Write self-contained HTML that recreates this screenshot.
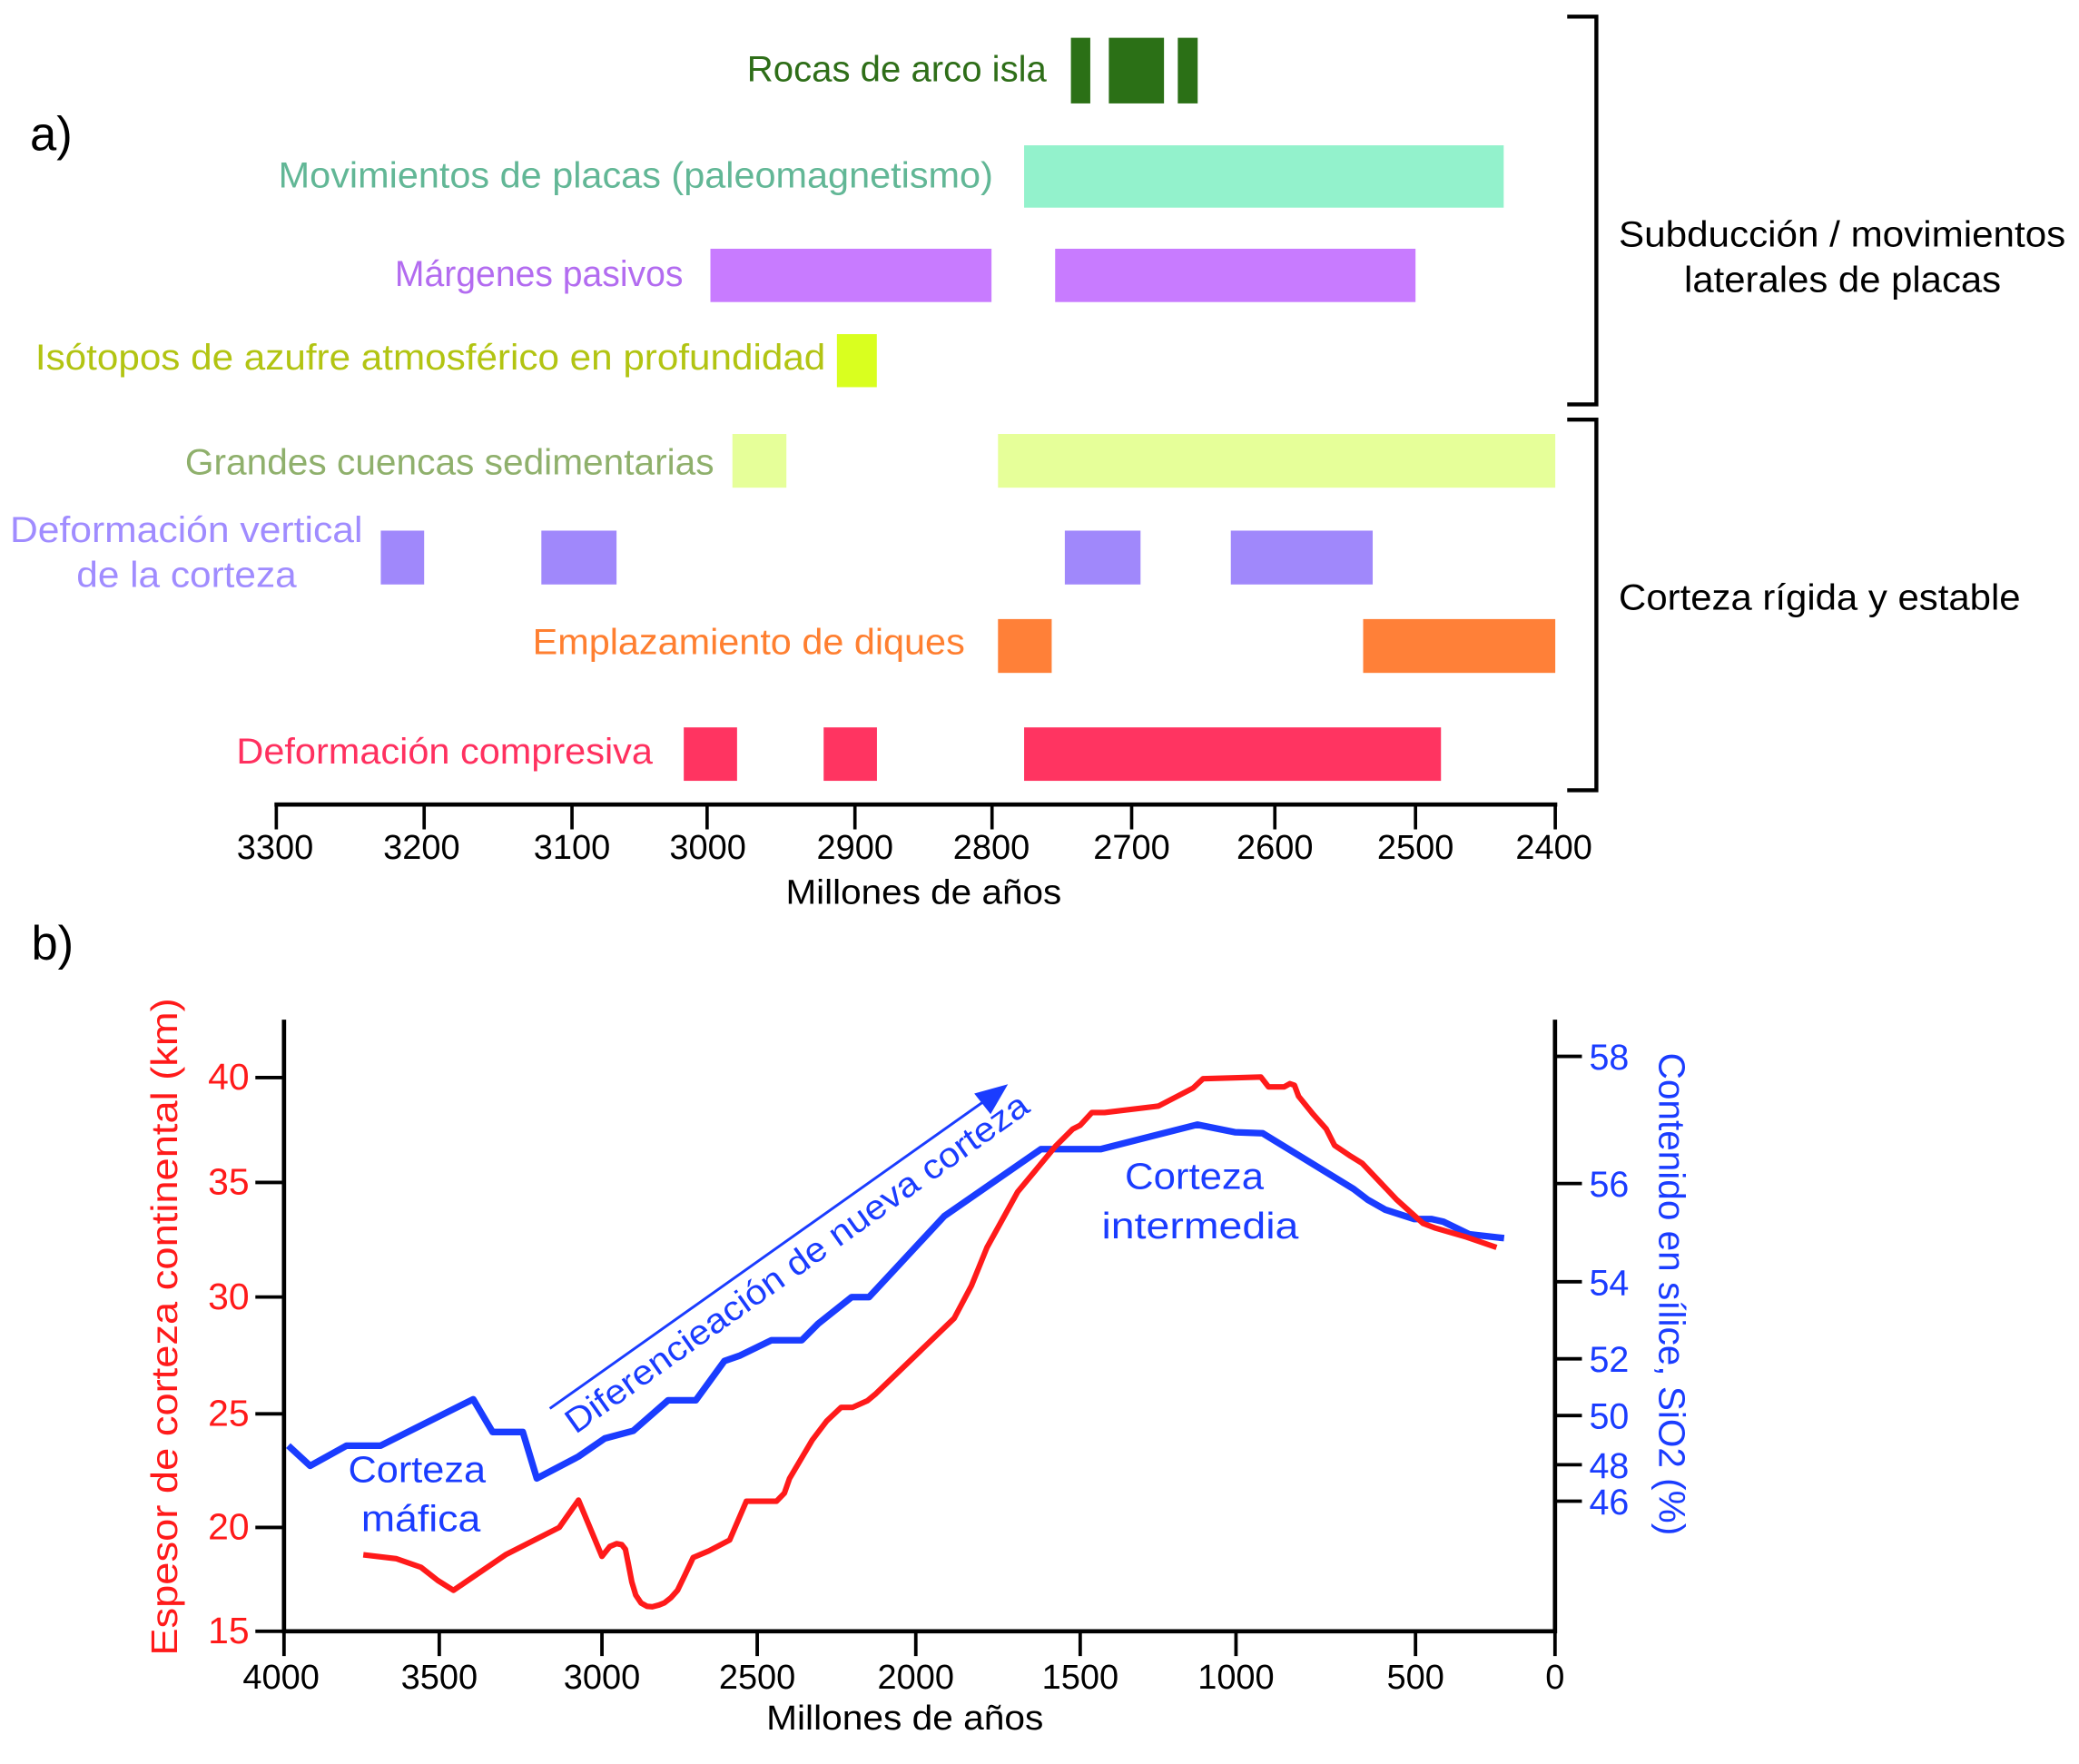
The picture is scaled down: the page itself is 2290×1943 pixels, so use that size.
<!DOCTYPE html>
<html><head><meta charset="utf-8"><style>
html,body{margin:0;padding:0;background:#fff;}
svg{display:block;}
text{font-family:"Liberation Sans",sans-serif;}
</style></head><body>
<svg width="2290" height="1943" viewBox="0 0 1568 1330.4" xmlns="http://www.w3.org/2000/svg">
<rect x="0" y="0" width="1568" height="1330.4" fill="#fff"/>

<!-- Panel a -->
<text x="22.6" y="113.4" font-size="36" fill="#000">a)</text>

<!-- bars -->
<g>
<rect x="807.7" y="28.5" width="14.6" height="49.5" fill="#2b7016"/>
<rect x="836.3" y="28.5" width="41.6" height="49.5" fill="#2b7016"/>
<rect x="888.3" y="28.5" width="15" height="49.5" fill="#2b7016"/>

<rect x="772.4" y="109.6" width="361.7" height="47" fill="#93f2cc"/>

<rect x="535.8" y="187.6" width="212" height="40.2" fill="#c87bff"/>
<rect x="795.8" y="187.6" width="271.8" height="40.2" fill="#c87bff"/>

<rect x="631.2" y="252" width="30.1" height="40" fill="#d9ff1f"/>

<rect x="552.4" y="327.3" width="40.7" height="40.5" fill="#e6ff99"/>
<rect x="752.7" y="327.3" width="420.3" height="40.5" fill="#e6ff99"/>

<rect x="287.2" y="400.2" width="32.7" height="40.6" fill="#a088fb"/>
<rect x="408.3" y="400.2" width="56.7" height="40.6" fill="#a088fb"/>
<rect x="803.1" y="400.2" width="57.1" height="40.6" fill="#a088fb"/>
<rect x="928.3" y="400.2" width="107" height="40.6" fill="#a088fb"/>

<rect x="752.7" y="466.9" width="40.5" height="40.6" fill="#ff8038"/>
<rect x="1028.1" y="466.9" width="144.9" height="40.6" fill="#ff8038"/>

<rect x="515.7" y="548.6" width="40.2" height="40.3" fill="#ff3461"/>
<rect x="621.2" y="548.6" width="40.2" height="40.3" fill="#ff3461"/>
<rect x="772.4" y="548.6" width="314.4" height="40.3" fill="#ff3461"/>
</g>

<!-- labels a -->
<g font-size="27">
<text x="563.4" y="61.2" fill="#2e6e18" textLength="226" lengthAdjust="spacingAndGlyphs">Rocas de arco isla</text>
<text x="210" y="141.5" fill="#62b796" textLength="539" lengthAdjust="spacingAndGlyphs">Movimientos de placas (paleomagnetismo)</text>
<text x="297.8" y="215.7" fill="#b36cf0" textLength="217.4" lengthAdjust="spacingAndGlyphs">Márgenes pasivos</text>
<text x="26.6" y="278.8" fill="#b2c412" textLength="596" lengthAdjust="spacingAndGlyphs">Isótopos de azufre atmosférico en profundidad</text>
<text x="139.6" y="357.9" fill="#8fb06c" textLength="399" lengthAdjust="spacingAndGlyphs">Grandes cuencas sedimentarias</text>
<text x="7.5" y="408.9" fill="#a08cff" textLength="266" lengthAdjust="spacingAndGlyphs">Deformación vertical</text>
<text x="57.7" y="442.5" fill="#a08cff" textLength="166" lengthAdjust="spacingAndGlyphs">de la corteza</text>
<text x="401.7" y="493.5" fill="#ff7f30" textLength="326" lengthAdjust="spacingAndGlyphs">Emplazamiento de diques</text>
<text x="178.3" y="575.7" fill="#ff305f" textLength="314" lengthAdjust="spacingAndGlyphs">Deformación compresiva</text>
</g>
<g font-size="27" fill="#000">
<text x="1220.9" y="186" textLength="337" lengthAdjust="spacingAndGlyphs">Subducción / movimientos</text>
<text x="1270.2" y="220.3" textLength="239" lengthAdjust="spacingAndGlyphs">laterales de placas</text>
<text x="1220.9" y="459.9" textLength="303" lengthAdjust="spacingAndGlyphs">Corteza rígida y estable</text>
</g>

<!-- brackets -->
<g fill="none" stroke="#000" stroke-width="3">
<polyline points="1182,12.5 1204,12.5 1204,305 1182,305"/>
<polyline points="1182,316.5 1204,316.5 1204,596 1182,596"/>
</g>

<!-- axis a -->
<g stroke="#000">
<line x1="207" y1="606.8" x2="1174.5" y2="606.8" stroke-width="3.2"/>
<g stroke-width="2.5">
<line x1="208.4" y1="606.8" x2="208.4" y2="625.5"/>
<line x1="319.9" y1="606.8" x2="319.9" y2="625.5"/>
<line x1="431.4" y1="606.8" x2="431.4" y2="625.5"/>
<line x1="533.3" y1="606.8" x2="533.3" y2="625.5"/>
<line x1="644.8" y1="606.8" x2="644.8" y2="625.5"/>
<line x1="748.2" y1="606.8" x2="748.2" y2="625.5"/>
<line x1="853.5" y1="606.8" x2="853.5" y2="625.5"/>
<line x1="961.5" y1="606.8" x2="961.5" y2="625.5"/>
<line x1="1067.6" y1="606.8" x2="1067.6" y2="625.5"/>
<line x1="1173" y1="606.8" x2="1173" y2="625.5"/>
</g>
</g>
<g font-size="26" fill="#000" text-anchor="middle">
<text x="207.5" y="647.9">3300</text>
<text x="318" y="647.9">3200</text>
<text x="431.4" y="647.9">3100</text>
<text x="533.8" y="647.9">3000</text>
<text x="644.8" y="647.9">2900</text>
<text x="747.7" y="647.9">2800</text>
<text x="853.5" y="647.9">2700</text>
<text x="961.5" y="647.9">2600</text>
<text x="1067.6" y="647.9">2500</text>
<text x="1172" y="647.9">2400</text>
</g>
<text x="592.6" y="681.5" font-size="26" fill="#000" textLength="208" lengthAdjust="spacingAndGlyphs">Millones de años</text>

<!-- Panel b -->
<text x="23.6" y="723.8" font-size="36" fill="#000">b)</text>

<!-- curves -->
<polyline fill="none" stroke="#1a3cff" stroke-width="5" stroke-linejoin="round" stroke-linecap="butt"
points="217.4,1090.3 233.9,1105.5 261.4,1090.3 287,1090.3 356.9,1055.3 371.5,1080 394.3,1080 404.9,1115 436.3,1098.5 456,1084.9 477.6,1079.1 503.9,1056.1 524.8,1056.1 546.4,1026.4 558.2,1022.3 581.8,1010.8 604.7,1010.8 617,998.4 642.3,978.3 655.4,978.3 712.1,917.3 785.1,866.7 830,866.7 903,848.2 931.3,853.9 952.3,854.7 1020.9,896.7 1031.8,905 1044.9,912.4 1066.7,919.4 1079.8,919.4 1088.6,921.4 1108.2,930.9 1134.4,933.8"/>
<polyline fill="none" stroke="#ff1a1a" stroke-width="4.2" stroke-linejoin="round" stroke-linecap="butt"
points="274,1172.6 298.7,1175.5 317.6,1182.1 330.2,1192 342,1199.4 381.3,1172.6 421.8,1152 436.3,1131.4 454,1173.8 459.9,1166.4 465,1164.2 469,1165 471.7,1168.5 474,1180 476.5,1193 479.5,1203 483.5,1209 488,1211.5 492,1211.8 497,1210.5 501.2,1208.8 506,1205 511,1199.4 516.5,1188 522.8,1174.7 534.6,1169.7 550.3,1161.5 562.9,1132.2 585.7,1132.2 591.6,1126.1 595.5,1115 612.6,1086.1 623.5,1071.7 634.4,1061.4 643.1,1061.4 654.1,1056.5 660.6,1051.1 719.6,994.3 732.7,969.6 744.4,940.8 767.6,898.8 796,864.6 809.1,851.5 814.8,848.6 823.5,839.1 833.1,839.1 873.7,834.2 899.9,820.6 907.3,813.6 951,812.3 956.7,819.7 968.5,819.7 972.8,817.3 976.3,818.5 979.4,826.8 990.3,840.3 1000.3,851.5 1006.5,863.8 1018.7,872 1027.4,877.4 1053.6,905 1073.3,922.7 1082,926 1106,933 1128.7,940.8"/>

<!-- arrow -->
<line x1="414.7" y1="1062.3" x2="750" y2="825" stroke="#1a3cff" stroke-width="2"/>
<polygon points="734.8,824.7 760.2,817.7 747.1,840.3" fill="#1a3cff"/>
<text transform="translate(434,1082) rotate(-35.4)" font-size="26" fill="#1a3cff" textLength="422" lengthAdjust="spacingAndGlyphs">Diferencieación de nueva corteza</text>

<g font-size="28" fill="#1a3cff">
<text x="262.6" y="1117.8" textLength="103.8" lengthAdjust="spacingAndGlyphs">Corteza</text>
<text x="272.4" y="1154.9" textLength="90" lengthAdjust="spacingAndGlyphs">máfica</text>
<text x="848.4" y="896.7" textLength="104.8" lengthAdjust="spacingAndGlyphs">Corteza</text>
<text x="830.9" y="933.8" textLength="148.5" lengthAdjust="spacingAndGlyphs">intermedia</text>
</g>

<!-- axes b -->
<g stroke="#000" fill="none">
<polyline points="214.2,769 214.2,1230.3 1172.8,1230.3 1172.8,769" stroke-width="3.2"/>
<g stroke-width="2.6">
<line x1="192.6" y1="812.7" x2="214.2" y2="812.7"/>
<line x1="192.6" y1="891.8" x2="214.2" y2="891.8"/>
<line x1="192.6" y1="978.2" x2="214.2" y2="978.2"/>
<line x1="192.6" y1="1066.3" x2="214.2" y2="1066.3"/>
<line x1="192.6" y1="1152" x2="214.2" y2="1152"/>
<line x1="192.6" y1="1230.3" x2="214.2" y2="1230.3"/>

<line x1="1172.8" y1="796.7" x2="1193.1" y2="796.7"/>
<line x1="1172.8" y1="892.6" x2="1193.1" y2="892.6"/>
<line x1="1172.8" y1="966.7" x2="1193.1" y2="966.7"/>
<line x1="1172.8" y1="1024.8" x2="1193.1" y2="1024.8"/>
<line x1="1172.8" y1="1067.6" x2="1193.1" y2="1067.6"/>
<line x1="1172.8" y1="1104.7" x2="1193.1" y2="1104.7"/>
<line x1="1172.8" y1="1132.2" x2="1193.1" y2="1132.2"/>

<line x1="214.2" y1="1230.3" x2="214.2" y2="1249"/>
<line x1="331.3" y1="1230.3" x2="331.3" y2="1249"/>
<line x1="454" y1="1230.3" x2="454" y2="1249"/>
<line x1="571.1" y1="1230.3" x2="571.1" y2="1249"/>
<line x1="690.7" y1="1230.3" x2="690.7" y2="1249"/>
<line x1="814.7" y1="1230.3" x2="814.7" y2="1249"/>
<line x1="932.2" y1="1230.3" x2="932.2" y2="1249"/>
<line x1="1067.6" y1="1230.3" x2="1067.6" y2="1249"/>
<line x1="1172.8" y1="1230.3" x2="1172.8" y2="1249"/>
</g>
</g>

<g font-size="28" fill="#ff1a1a" text-anchor="end">
<text x="188" y="821.7">40</text>
<text x="188" y="900.8">35</text>
<text x="188" y="987.2">30</text>
<text x="188" y="1075.3">25</text>
<text x="188" y="1161">20</text>
<text x="188" y="1239.3">15</text>
</g>
<g font-size="27" fill="#1a3cff">
<text x="1198.6" y="806.6">58</text>
<text x="1198.6" y="902.5">56</text>
<text x="1198.6" y="976.6">54</text>
<text x="1198.6" y="1034.7">52</text>
<text x="1198.6" y="1077.5">50</text>
<text x="1198.6" y="1114.6">48</text>
<text x="1198.6" y="1142.1">46</text>
</g>
<g font-size="26" fill="#000" text-anchor="middle">
<text x="212" y="1273.5">4000</text>
<text x="331.3" y="1273.5">3500</text>
<text x="454" y="1273.5">3000</text>
<text x="571.1" y="1273.5">2500</text>
<text x="690.7" y="1273.5">2000</text>
<text x="814.7" y="1273.5">1500</text>
<text x="932.2" y="1273.5">1000</text>
<text x="1067.6" y="1273.5">500</text>
<text x="1172.8" y="1273.5">0</text>
</g>
<text x="578" y="1304.3" font-size="26" fill="#000" textLength="209" lengthAdjust="spacingAndGlyphs">Millones de años</text>

<text transform="translate(133.6,1000.7) rotate(-90)" text-anchor="middle" font-size="28" fill="#ff1a1a" textLength="496" lengthAdjust="spacingAndGlyphs">Espesor de corteza continental (km)</text>
<text transform="translate(1251.4,976) rotate(90)" text-anchor="middle" font-size="28" fill="#1a3cff" textLength="364" lengthAdjust="spacingAndGlyphs">Contenido en sílice, SiO2 (%)</text>
</svg>
</body></html>
